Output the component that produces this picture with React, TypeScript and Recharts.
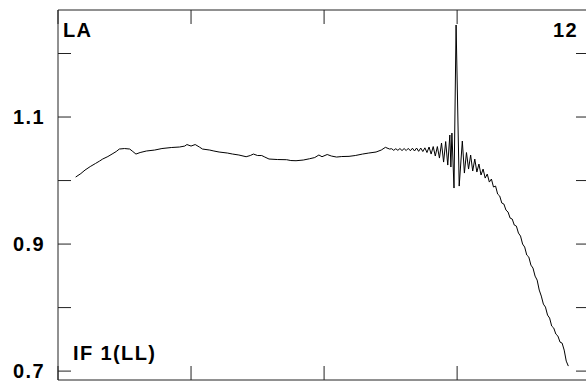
import { LineChart, Line, XAxis, YAxis } from "recharts"

// spectral channel numbers and normalised amplitude
const channels = [
  17, 22, 26, 31, 36, 40, 43, 48, 52, 56, 59, 64, 69, 72, 75, 79, 85, 93, 100, 109,
  117, 122, 124, 128, 132, 136, 139, 146, 150, 155, 163, 168, 174, 181, 185, 188, 192, 196, 199, 203,
  211, 220, 224, 229, 236, 242, 247, 251, 254, 259, 263, 268, 273, 280, 286, 293, 299, 306, 311, 315,
  319, 321, 323, 325, 327, 329, 331, 333, 335, 337, 339, 341, 343, 345, 347, 349, 351, 353, 355, 357,
  359, 361, 363, 365, 367, 369, 371, 373, 375, 377, 378, 379, 381, 383, 386, 389, 391, 393, 395, 397,
  399, 401, 403, 405, 407, 409, 411, 413, 415, 417, 419, 421, 423, 425, 427, 429, 431, 433, 435, 437,
  439, 441, 443, 445, 447, 449, 451, 453, 455, 457, 459, 461, 463, 465, 467, 469, 471, 473, 475, 477,
  479, 481, 483, 485, 487, 489, 491,
]

const amplitude = [
  1.0055, 1.011, 1.0165, 1.022, 1.0268, 1.0307, 1.0339, 1.0378, 1.0417, 1.0457, 1.0496, 1.0504, 1.0496, 1.0457, 1.0417, 1.0441, 1.0465, 1.048, 1.0504, 1.052,
  1.0528, 1.0543, 1.0567, 1.0543, 1.0567, 1.0528, 1.0496, 1.048, 1.0465, 1.0449, 1.0433, 1.0417, 1.0402, 1.0375, 1.0394, 1.0417, 1.0394, 1.0394, 1.037, 1.0339,
  1.0331, 1.0328, 1.0315, 1.0312, 1.0323, 1.0343, 1.0362, 1.0402, 1.0375, 1.041, 1.0386, 1.037, 1.0378, 1.0381, 1.0394, 1.0417, 1.0433, 1.0449, 1.048, 1.0523,
  1.0496, 1.0501, 1.0476, 1.0501, 1.0476, 1.0504, 1.0472, 1.0504, 1.0472, 1.0507, 1.0469, 1.0509, 1.0465, 1.0512, 1.046, 1.0512, 1.0457, 1.0515, 1.0441, 1.0528,
  1.0417, 1.0535, 1.0386, 1.0535, 1.0354, 1.0591, 1.0291, 1.0614, 1.0244, 1.0717, 1.0213, 1.0748, 0.9882, 1.2449, 0.9913, 1.0622, 1.0118, 1.0441, 1.0181, 1.0402,
  1.015, 1.0339, 1.0134, 1.026, 1.0087, 1.0181, 1.0039, 1.0102, 0.9976, 1.0024, 0.9898, 0.9913, 0.9787, 0.9756, 0.9646, 0.963, 0.9535, 0.9504, 0.9409, 0.9394,
  0.9299, 0.9283, 0.9173, 0.9126, 0.9, 0.8953, 0.8827, 0.8795, 0.8669, 0.8622, 0.8496, 0.8433, 0.8276, 0.8181, 0.8055, 0.8008, 0.7882, 0.7835, 0.7709, 0.7677,
  0.7583, 0.7551, 0.7457, 0.7441, 0.7331, 0.7157, 0.7079,
]

const xTicks = [0, 128, 256, 384]
const yTicks = [0.7, 0.8, 0.9, 1.0, 1.1, 1.2]
const yLabels = ["0.7", "0.9", "1.1"]

const data = channels.map((ch, i) => ({ ch, amp: amplitude[i] }))

const W = 586
const H = 382
const AXIS = "#222"
const LEFT = 58
const TOP = 10
const BOTTOM = 380
const TICK = 13
const labelFont = {
  fontFamily: "'Liberation Sans', Arial, sans-serif",
  fontWeight: 700,
  fontSize: 20,
  letterSpacing: 1.4,
}

// inward ticks on the left and (cut off) right frame edges, labels on the left only
const YTick = (props: any) => {
  const v = Number(props.payload.value).toFixed(1)
  return (
    <g>
      <line x1={LEFT} x2={LEFT + TICK} y1={props.y} y2={props.y} stroke={AXIS} strokeWidth={1} />
      <line x1={W - 10} x2={W} y1={props.y} y2={props.y} stroke={AXIS} strokeWidth={1} />
      {yLabels.includes(v) && (
        <text x={45} y={props.y + 7} textAnchor="end" fill="#000" style={labelFont}>
          {v}
        </text>
      )}
    </g>
  )
}

const BottomTick = (props: any) => (
  <line x1={props.x} x2={props.x} y1={BOTTOM} y2={BOTTOM - 14} stroke={AXIS} strokeWidth={1} />
)

const TopTick = (props: any) => (
  <line x1={props.x} x2={props.x} y1={TOP} y2={TOP + 14} stroke={AXIS} strokeWidth={1} />
)

export default function App() {
  return (
    <div style={{ position: "absolute", left: 0, top: 0, width: W, height: H, overflow: "hidden", background: "#fff" }}>
      <LineChart width={W} height={H} data={data} margin={{ top: TOP - 1, right: 0, bottom: H - BOTTOM - 1, left: 0 }}>
        <XAxis
          xAxisId="bottom"
          dataKey="ch"
          type="number"
          domain={[0, 508]}
          ticks={xTicks}
          height={1}
          axisLine={{ stroke: AXIS }}
          tickLine={false}
          tick={BottomTick}
        />
        <XAxis
          xAxisId="top"
          orientation="top"
          dataKey="ch"
          type="number"
          domain={[0, 508]}
          ticks={xTicks}
          height={1}
          axisLine={{ stroke: AXIS }}
          tickLine={false}
          tick={TopTick}
        />
        <YAxis
          type="number"
          domain={[0.686, 1.2685]}
          ticks={yTicks}
          allowDataOverflow
          width={LEFT}
          axisLine={{ stroke: AXIS }}
          tickLine={false}
          tick={YTick}
        />
        <Line
          xAxisId="bottom"
          type="linear"
          dataKey="amp"
          stroke="#000"
          strokeWidth={1}
          dot={false}
          isAnimationActive={false}
        />
      </LineChart>
      <svg width={W} height={H} style={{ position: "absolute", left: 0, top: 0, pointerEvents: "none" }}>
        <text x={63} y={37} fill="#000" style={labelFont}>LA</text>
        <text x={578} y={37} textAnchor="end" fill="#000" style={labelFont}>12</text>
        <text x={73} y={360} fill="#000" style={labelFont}>IF 1(LL)</text>
      </svg>
    </div>
  )
}
